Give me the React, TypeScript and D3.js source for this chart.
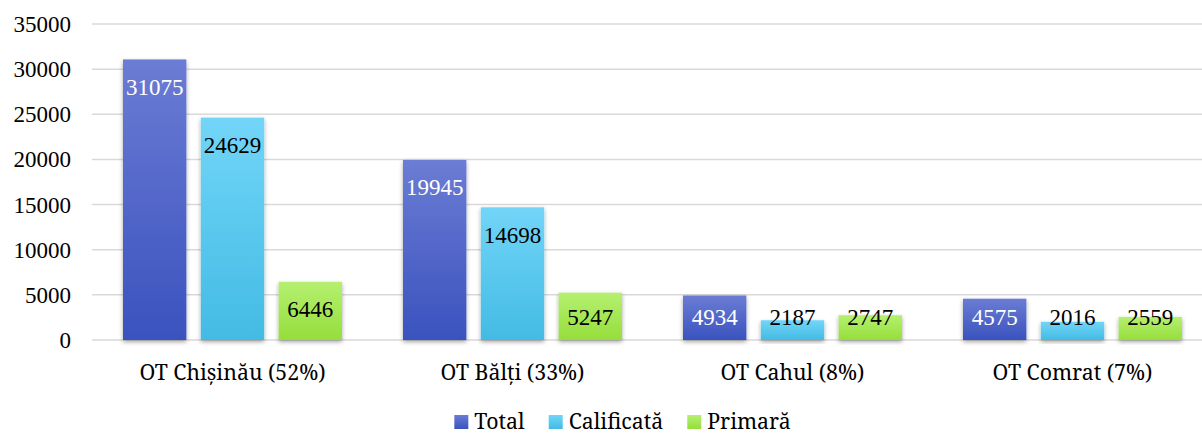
import React, { useEffect, useRef } from "react";
import * as d3 from "d3";

const categories = ["OT Chișinău (52%)", "OT Bălți (33%)", "OT Cahul (8%)", "OT Comrat (7%)"];
const seriesNames = ["Total", "Calificată", "Primară"];
const totalValues = [31075, 19945, 4934, 4575];
const calificataValues = [24629, 14698, 2187, 2016];
const primaraValues = [6446, 5247, 2747, 2559];
const yTicks = [0, 5000, 10000, 15000, 20000, 25000, 30000, 35000];

const W = 1202;
const H = 433;
const NUM_FONT = "Liberation Serif";
const CAT_FONT = "Noto Serif";

const gradients = [
  { id: "gTotal", top: "#6b7cd4", bottom: "#3a52be", label: "#ffffff" },
  { id: "gCalif", top: "#72d5f8", bottom: "#43bbe4", label: "#000000" },
  { id: "gPrim", top: "#b5f070", bottom: "#95de3b", label: "#000000" },
];

export default function App() {
  const ref = useRef<SVGSVGElement>(null);

  useEffect(() => {
    const svg = d3.select(ref.current);
    svg.selectAll("*").remove();

    const values = [totalValues, calificataValues, primaraValues];
    const data = categories.map((c, i) => ({
      cat: c,
      vals: seriesNames.map((s, k) => ({ key: s, k, v: values[k][i] })),
    }));

    const x0 = d3.scaleBand<string>().domain(categories).range([92.5, 1212.5]).paddingInner(0).paddingOuter(0);
    const innerPad = 30.5;
    const x1 = d3
      .scaleBand<string>()
      .domain(seriesNames)
      .range([innerPad, x0.bandwidth() - innerPad])
      .paddingInner(0.186)
      .paddingOuter(0);
    const y = d3.scaleLinear().domain([0, 35000]).range([340, 24]);

    const defs = svg.append("defs");
    gradients.forEach((g) => {
      const lg = defs.append("linearGradient").attr("id", g.id).attr("x1", 0).attr("y1", 0).attr("x2", 0).attr("y2", 1);
      lg.append("stop").attr("offset", "0%").attr("stop-color", g.top);
      lg.append("stop").attr("offset", "100%").attr("stop-color", g.bottom);
    });
    const f = defs.append("filter").attr("id", "shadow").attr("x", "-20%").attr("y", "-20%").attr("width", "140%").attr("height", "140%");
    f.append("feDropShadow").attr("dx", 0).attr("dy", 2).attr("stdDeviation", 2).attr("flood-color", "#000").attr("flood-opacity", 0.35);

    svg
      .append("g")
      .selectAll("line")
      .data(yTicks)
      .join("line")
      .attr("x1", 92)
      .attr("x2", W)
      .attr("y1", (d) => y(d))
      .attr("y2", (d) => y(d))
      .attr("stroke", "#d9d9d9")
      .attr("stroke-width", 1.5);

    svg
      .append("g")
      .selectAll("text")
      .data(yTicks)
      .join("text")
      .attr("x", 71)
      .attr("y", (d) => y(d) + 8)
      .attr("text-anchor", "end")
      .style("font-family", NUM_FONT)
      .style("font-size", "23px")
      .attr("fill", "#000")
      .text((d) => String(d));

    const groups = svg
      .append("g")
      .selectAll("g")
      .data(data)
      .join("g")
      .attr("transform", (d) => `translate(${x0(d.cat)},0)`);

    groups
      .selectAll("rect")
      .data((d) => d.vals)
      .join("rect")
      .attr("x", (d) => x1(d.key)!)
      .attr("width", x1.bandwidth())
      .attr("y", (d) => y(d.v))
      .attr("height", (d) => y(0) - y(d.v))
      .attr("fill", (d) => `url(#${gradients[d.k].id})`)
      .attr("filter", "url(#shadow)");

    groups
      .selectAll("text")
      .data((d) => d.vals)
      .join("text")
      .attr("x", (d) => x1(d.key)! + x1.bandwidth() / 2)
      .attr("y", (d) => Math.min(y(d.v) + 27.5, y(0) - 23) + 8)
      .attr("text-anchor", "middle")
      .style("font-family", NUM_FONT)
      .style("font-size", "23px")
      .attr("fill", (d) => gradients[d.k].label)
      .text((d) => String(d.v));

    svg
      .append("g")
      .selectAll("text")
      .data(categories)
      .join("text")
      .attr("x", (d) => x0(d)! + x0.bandwidth() / 2)
      .attr("y", 380)
      .attr("text-anchor", "middle")
      .style("font-family", CAT_FONT)
      .style("font-size", "21.3px")
      .attr("fill", "#000")
      .text((d) => d);

    const legend = svg.append("g");
    const items = legend.selectAll("g").data(seriesNames).join("g");
    items
      .append("rect")
      .attr("x", 0)
      .attr("y", 415)
      .attr("width", 14)
      .attr("height", 14)
      .attr("fill", (d, i) => `url(#${gradients[i].id})`);
    items
      .append("text")
      .attr("x", 20)
      .attr("y", 428.5)
      .style("font-family", CAT_FONT)
      .style("font-size", "21.3px")
      .attr("fill", "#000")
      .text((d) => d);
    let xpos = 0;
    const offsets: number[] = [];
    items.each(function () {
      const t = d3.select(this).select("text").node() as SVGTextElement;
      offsets.push(xpos);
      xpos += 20 + t.getComputedTextLength() + 24;
    });
    const totalW = xpos - 24;
    const start = 622.5 - totalW / 2;
    items.attr("transform", (d, i) => `translate(${start + offsets[i]},0)`);
  }, []);

  return (
    <svg
      ref={ref}
      width={W}
      height={H}
      style={{ position: "absolute", left: 0, top: 0, background: "#fff", display: "block" }}
    />
  );
}
